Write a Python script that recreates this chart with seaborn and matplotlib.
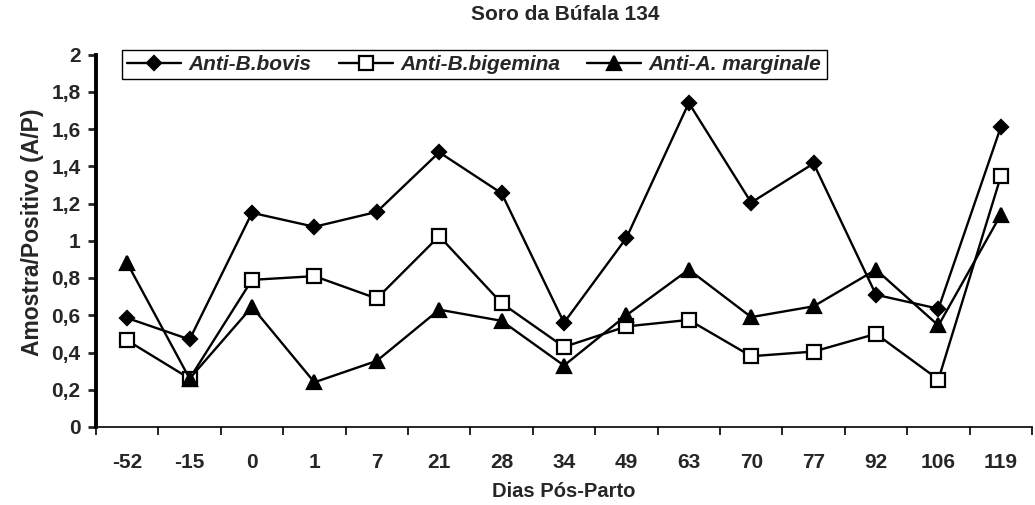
import matplotlib
matplotlib.use("Agg")
import matplotlib.pyplot as plt
from matplotlib.ticker import FixedLocator, FuncFormatter
import seaborn as sns
import pandas as pd

days = ["-52", "-15", "0", "1", "7", "21", "28", "34", "49", "63", "70", "77", "92", "106", "119"]
bovis = [0.585, 0.47, 1.15, 1.075, 1.155, 1.475, 1.255, 0.56, 1.015, 1.74, 1.205, 1.415, 0.71, 0.635, 1.61]
bigemina = [0.465, 0.26, 0.79, 0.81, 0.69, 1.025, 0.665, 0.43, 0.54, 0.575, 0.38, 0.405, 0.50, 0.255, 1.345]
marginale = [0.88, 0.26, 0.645, 0.24, 0.355, 0.63, 0.57, 0.33, 0.60, 0.845, 0.59, 0.648, 0.845, 0.545, 1.14]
yticks = [0, 0.2, 0.4, 0.6, 0.8, 1.0, 1.2, 1.4, 1.6, 1.8, 2.0]

sns.set_style("ticks")
plt.rcParams['font.family'] = ['Liberation Sans', 'DejaVu Sans']
plt.rcParams['font.weight'] = 'bold'

fig = plt.figure(figsize=(10.35, 5.05), dpi=100)
ax = fig.add_axes([96 / 1035, 78 / 505, 936 / 1035, 372.5 / 505])

series = [
    ("Anti-B.bovis", bovis, "D", "black", 7.5),
    ("Anti-B.bigemina", bigemina, "s", "white", 10),
    ("Anti-A. marginale", marginale, "^", "black", 10.5),
]
for name, vals, mk, face, ms in series:
    df = pd.DataFrame({"dia": days, "valor": vals})
    sns.lineplot(data=df, x="dia", y="valor", ax=ax, color="black", lw=1.7,
                 marker=mk, markersize=ms, markerfacecolor=face,
                 markeredgecolor="black", markeredgewidth=1.6, label=name)

ax.set_xlim(-0.5, len(days) - 0.5)
ax.set_ylim(0, 2)
ax.xaxis.set_major_locator(FixedLocator(range(len(days))))
ax.set_xticklabels(days)
ax.xaxis.set_minor_locator(FixedLocator([i - 0.5 for i in range(len(days) + 1)]))
ax.tick_params(axis="x", which="major", length=0, pad=19, labelsize=15)
ax.tick_params(axis="x", which="minor", length=6, width=1.2, color="black")
ax.set_yticks(yticks)
ax.yaxis.set_major_formatter(FuncFormatter(lambda v, p: f"{v:g}".replace(".", ",")))
ax.tick_params(axis="y", length=6, width=2, labelsize=15, pad=5)
for lab in ax.get_xticklabels() + ax.get_yticklabels():
    lab.set_fontweight("bold")

sns.despine(ax=ax)
ax.spines["left"].set_linewidth(2.8)
ax.spines["bottom"].set_linewidth(1.2)
ax.spines["left"].set_color("black")
ax.spines["bottom"].set_color("black")

ax.set_xlabel("Dias Pós-Parto", fontsize=14.5, fontweight="bold")
ax.xaxis.set_label_coords(0.5, (427 - 482) / 372.5)
ax.set_ylabel("Amostra/Positivo (A/P)", fontsize=16.5, fontweight="bold")
ax.yaxis.set_label_coords((44 - 96) / 936, (427 - 232) / 372.5)
fig.text(565 / 1035, 1 - 15 / 505, "Soro da Búfala 134", ha="center", va="center",
         fontsize=15, fontweight="bold")

handles, labels = ax.get_legend_handles_labels()
leg = ax.legend(handles, labels, ncol=3, loc="upper left",
                bbox_to_anchor=(122 / 1035, 1 - 50 / 505), bbox_transform=fig.transFigure,
                frameon=True, fancybox=False, edgecolor="black", framealpha=1,
                borderaxespad=0, borderpad=0.25, handlelength=2.6, handletextpad=0.35,
                columnspacing=1.3,
                prop=dict(family="Liberation Sans", weight="bold", style="italic", size=15))
leg.get_frame().set_linewidth(1.0)

fig.savefig("out.png", dpi=100)
